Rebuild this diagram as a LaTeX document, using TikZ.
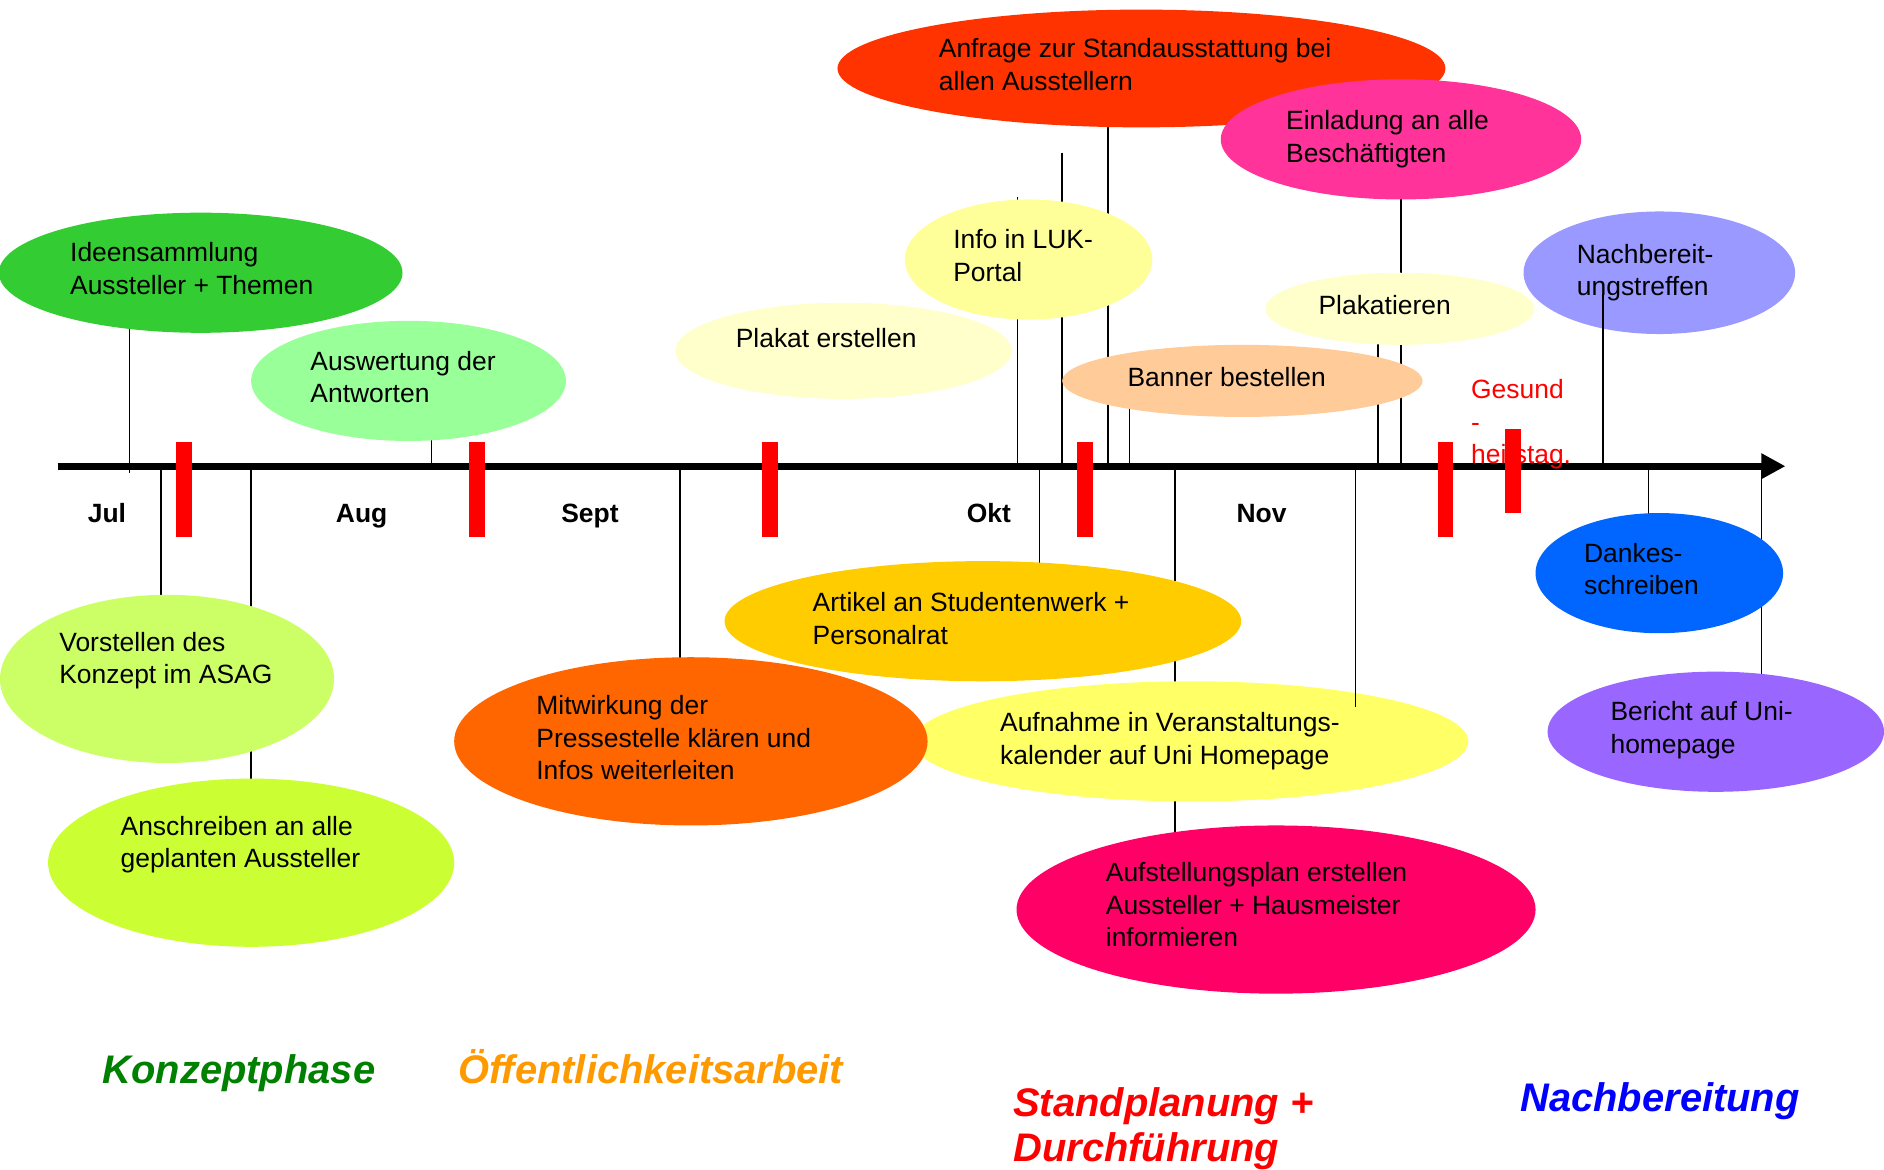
\documentclass[tikz,border=0pt]{standalone}
\usepackage{fontspec}
\setmainfont{Liberation Sans}
\usetikzlibrary{shapes.geometric,arrows.meta}
\definecolor{cIdeen}{HTML}{33CC33}
\definecolor{cAusw}{HTML}{99FF99}
\definecolor{cVorst}{HTML}{CCFF66}
\definecolor{cAnsch}{HTML}{CCFF33}
\definecolor{cPlakat}{HTML}{FFFFCC}
\definecolor{cAnfrage}{HTML}{FF3300}
\definecolor{cEinl}{HTML}{FF3399}
\definecolor{cInfo}{HTML}{FFFF99}
\definecolor{cBanner}{HTML}{FFCC99}
\definecolor{cNach}{HTML}{9999FF}
\definecolor{cDankes}{HTML}{0066FF}
\definecolor{cBericht}{HTML}{9966FF}
\definecolor{cArtikel}{HTML}{FFCC00}
\definecolor{cMitw}{HTML}{FF6600}
\definecolor{cAufn}{HTML}{FFFF66}
\definecolor{cAufst}{HTML}{FF0066}
\definecolor{pGreen}{HTML}{008000}
\definecolor{pOrange}{HTML}{FF9900}
\definecolor{pRed}{HTML}{FF0000}
\definecolor{pBlue}{HTML}{0000FF}
\newcommand{\mlines}[1]{\begin{tabular}[t]{@{}l@{}}#1\end{tabular}}
\begin{document}
\begin{tikzpicture}[x=0.5pt,y=-0.5pt,
  blob/.style={ellipse, inner sep=0pt, outer sep=0pt, draw=none},
  txt/.style={anchor=base west, inner sep=0pt, font=\fontsize{11}{13.5}\selectfont},
  month/.style={anchor=base, inner sep=0pt, font=\fontsize{11}{13.5}\selectfont\bfseries},
  phase/.style={anchor=base west, inner sep=0pt, font=\fontsize{16.6}{19}\selectfont\bfseries\itshape},
  conn/.style={line width=0.6pt, black},
  redbar/.style={fill=red, draw=none}]
\useasboundingbox (0,0) rectangle (1568,973);

% ellipse nodes (positions only; drawn later in order)
\path
  node[blob, minimum width=168pt, minimum height=50pt] (ideen) at (167,227) {}
  node[blob, minimum width=131pt, minimum height=50pt] (ausw) at (340,317) {}
  node[blob, minimum width=139pt, minimum height=70pt] (vorst) at (139,565) {}
  node[blob, minimum width=169pt, minimum height=70pt] (ansch) at (209,718) {}
  node[blob, minimum width=140pt, minimum height=40pt] (plakat) at (702,292) {}
  node[blob, minimum width=103pt, minimum height=50pt] (info) at (856,216) {}
  node[blob, minimum width=253pt, minimum height=49pt] (anfrage) at (950,57) {}
  node[blob, minimum width=150pt, minimum height=50pt] (einl) at (1166,116) {}
  node[blob, minimum width=112pt, minimum height=30pt] (plakatieren) at (1165,257) {}
  node[blob, minimum width=150pt, minimum height=30pt] (banner) at (1034,317) {}
  node[blob, minimum width=113pt, minimum height=51pt] (nachtr) at (1381,227) {}
  node[blob, minimum width=103pt, minimum height=50pt] (dankes) at (1381,477) {}
  node[blob, minimum width=140pt, minimum height=50pt] (bericht) at (1428,609) {}
  node[blob, minimum width=215pt, minimum height=50pt] (artikel) at (818,517) {}
  node[blob, minimum width=231pt, minimum height=50pt] (aufn) at (991,617) {}
  node[blob, minimum width=197pt, minimum height=70pt] (mitw) at (575,617) {}
  node[blob, minimum width=216pt, minimum height=70pt] (aufst) at (1062,757) {};

% axis coordinates
\coordinate (axL) at (48,388);
\coordinate (axR) at (1486,388);
\coordinate (a1) at (108,394);
\coordinate (a2) at (359,388);
\coordinate (a3) at (134,388);
\coordinate (a4) at (209,388);
\coordinate (a5) at (566,388);
\coordinate (a6) at (847,388);
\coordinate (a7) at (884,388);
\coordinate (a7top) at (884,127);
\coordinate (a8) at (922,388);
\coordinate (a9) at (940,388);
\coordinate (a10) at (1147,388);
\coordinate (a11) at (1166,388);
\coordinate (a12) at (1334,388);
\coordinate (n1) at (1334,245);
\coordinate (b1) at (865,388);
\coordinate (b2) at (978,388);
\coordinate (b3) at (1372,388);
\coordinate (b4) at (1466,388);
\coordinate (b5) at (1128,388);
\coordinate (b5end) at (1128,588);

% connectors behind the ellipses
\draw[conn] (ideen.center -| a1) -- (a1);
\draw[conn] (ausw.center -| a2) -- (a2);
\draw[conn] (a3) -- (a3 |- vorst.center);
\draw[conn] (a4) -- (a4 |- ansch.center);
\draw[conn] (a5) -- (a5 |- mitw.center);
\draw[conn] ([yshift=1pt]a6 |- info.north) -- (a6);
\draw[conn] (a7top) -- (a7);
\draw[conn] (anfrage.center -| a8) -- (a8);
\draw[conn] (banner.center -| a9) -- (a9);
\draw[conn] (plakatieren.center -| a10) -- (a10);
\draw[conn] (einl.center -| a11) -- (a11);
\draw[conn] (b1) -- (b1 |- artikel.center);
\draw[conn] (b2) -- (b2 |- aufst.center);
\draw[conn] (b3) -- (b3 |- dankes.center);
\draw[conn] (b4) -- (b4 |- bericht.center);

% ellipses
\fill[cIdeen] (ideen.center) ellipse [x radius=168, y radius=50];
\fill[cAusw] (ausw.center) ellipse [x radius=131, y radius=50];
\fill[cVorst] (vorst.center) ellipse [x radius=139, y radius=70];
\fill[cAnsch] (ansch.center) ellipse [x radius=169, y radius=70];
\fill[cPlakat] (plakat.center) ellipse [x radius=140, y radius=40];
\fill[cInfo] (info.center) ellipse [x radius=103, y radius=50];
\fill[cAnfrage] (anfrage.center) ellipse [x radius=253, y radius=49];
\fill[cEinl] (einl.center) ellipse [x radius=150, y radius=50];
\fill[cPlakat] (plakatieren.center) ellipse [x radius=112, y radius=30];
\fill[cBanner] (banner.center) ellipse [x radius=150, y radius=30];
\fill[cNach] (nachtr.center) ellipse [x radius=113, y radius=51];
\fill[cDankes] (dankes.center) ellipse [x radius=103, y radius=50];
\fill[cBericht] (bericht.center) ellipse [x radius=140, y radius=50];
\fill[cArtikel] (artikel.center) ellipse [x radius=215, y radius=50];
\fill[cAufn] (aufn.center) ellipse [x radius=231, y radius=50];
\fill[cMitw] (mitw.center) ellipse [x radius=197, y radius=70];
\fill[cAufst] (aufst.center) ellipse [x radius=216, y radius=70];

% texts
\node[txt] (tIdeen) at (58,218) {\mlines{Ideensammlung\\Aussteller + Themen}};
\node[txt] (tAusw) at (258,308) {\mlines{Auswertung der\\Antworten}};
\node[txt] (tVorst) at (49,542) {\mlines{Vorstellen des\\Konzept im ASAG}};
\node[txt] (tAnsch) at (100,695) {\mlines{Anschreiben an alle\\geplanten Aussteller}};
\node[txt] (tPlakat) at (612,289) {Plakat erstellen};
\node[txt] (tAnfrage) at (781,48) {\mlines{Anfrage zur Standausstattung bei\\allen Ausstellern}};
\node[txt] (tEinl) at (1070,108) {\mlines{Einladung an alle\\Besch\"aftigten}};
\node[txt] (tInfo) at (793,207) {\mlines{Info in LUK-\\Portal}};
\node[txt] (tPlakatieren) at (1097,262) {Plakatieren};
\node[txt] (tBanner) at (938,322) {Banner bestellen};
\node[txt] (tNach) at (1312,219) {\mlines{Nachbereit-\\ungstreffen}};
\node[txt] (tDankes) at (1318,468) {\mlines{Dankes-\\schreiben}};
\node[txt] (tBericht) at (1340,600) {\mlines{Bericht auf Uni-\\homepage}};
\node[txt] (tArtikel) at (676,509) {\mlines{Artikel an Studentenwerk +\\Personalrat}};
\node[txt] (tMitw) at (446,595) {\mlines{Mitwirkung der\\Pressestelle kl\"aren und\\Infos weiterleiten}};
\node[txt] (tAufn) at (832,609) {\mlines{Aufnahme in Veranstaltungs-\\kalender auf Uni Homepage}};
\node[txt] (tAufst) at (920,734) {\mlines{Aufstellungsplan erstellen\\Aussteller + Hausmeister\\informieren}};

% connectors on top
\draw[conn] (n1) -- (a12);
\draw[conn] (b5) -- (b5end);

% axis
\draw[line width=3pt, -{Triangle[length=10pt,width=10pt]}] (axL) -- (axR);

% Gesundheitstag
\node[txt, text=red] (gesund) at (1224,332) {\mlines{Gesund\\-\\heitstag.}};

% red bars
\fill[redbar] (146.5,368) rectangle (159.5,447);
\fill[redbar] (390.5,368) rectangle (403.5,447);
\fill[redbar] (634.5,368) rectangle (647.5,447);
\fill[redbar] (896.5,368) rectangle (909.5,447);
\fill[redbar] (1196.5,368) rectangle (1209.5,447);
\fill[redbar] (1252.5,357) rectangle (1265.5,427);

% months
\node[month] (mJul) at (89,435) {Jul};
\node[month] (mAug) at (301,435) {Aug};
\node[month] (mSept) at (491,435) {Sept};
\node[month] (mOkt) at (823,435) {Okt};
\node[month] (mNov) at (1050,435) {Nov};

% phases
\node[phase, text=pGreen] (pKonzept) at (85,902) {Konzeptphase};
\node[phase, text=pOrange] (pOeff) at (381,902) {\"Offentlichkeitsarbeit};
\node[phase, text=pRed] (pStand) at (843,929) {\mlines{Standplanung +\\Durchf\"uhrung}};
\node[phase, text=pBlue] (pNach) at (1265,925) {Nachbereitung};
\end{tikzpicture}
\end{document}
